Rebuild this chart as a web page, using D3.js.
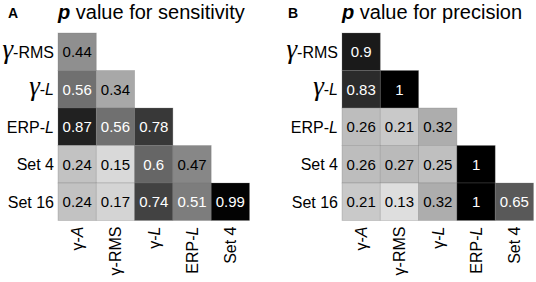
<!DOCTYPE html>
<html><head><meta charset="utf-8">
<script src="https://cdn.jsdelivr.net/npm/d3@7"></script>
<style>body{margin:0;background:#fff}svg{display:block}</style>
</head><body>
<script>
const rowLabels = ["γ-RMS","γ-L","ERP-L","Set 4","Set 16"];
const colLabels = ["γ-A","γ-RMS","γ-L","ERP-L","Set 4"];
const sensitivity = [
  [0.44],
  [0.56,0.34],
  [0.87,0.56,0.78],
  [0.24,0.15,0.6,0.47],
  [0.24,0.17,0.74,0.51,0.99]
];
const precision = [
  [0.9],
  [0.83,1],
  [0.26,0.21,0.32],
  [0.26,0.27,0.25,1],
  [0.21,0.13,0.32,1,0.65]
];
const panels = [
  {letter:"A", title:" value for sensitivity", data:sensitivity, x0:58, lx:8},
  {letter:"B", title:" value for precision", data:precision, x0:342, lx:288}
];

const W=536,H=282;
const svg=d3.select("body").append("svg").attr("width",W).attr("height",H)
  .style("font-family","'Liberation Sans', Arial, sans-serif");

const color=d3.scaleLinear().domain([0,1]).range(["#ffffff","#000000"]);
const x=d3.scaleBand().domain(colLabels).range([0,191.5]);
const y=d3.scaleBand().domain(rowLabels).range([0,187.5]);

function parts(lbl){
  if(lbl.startsWith("γ-")){
    const rest=lbl.slice(2);
    return [{t:"γ",g:true},{t:"-"},{t:rest,it:(rest==="L"||rest==="A")}];
  }
  if(lbl.startsWith("ERP-")) return [{t:"ERP-"},{t:"L",it:true}];
  return [{t:lbl}];
}

panels.forEach(p=>{
  const top=33;
  svg.append("text").attr("x",p.lx).attr("y",18).attr("font-size",14)
    .attr("font-weight","bold").text(p.letter);
  const t=svg.append("text").attr("x",p.x0).attr("y",19).attr("font-size",20);
  t.append("tspan").attr("font-weight","bold").attr("font-style","italic").text("p");
  t.append("tspan").text(p.title);

  const g=svg.append("g").attr("transform",`translate(${p.x0},${top})`);
  const cells=[];
  p.data.forEach((row,i)=>row.forEach((v,j)=>cells.push({r:rowLabels[i],c:colLabels[j],v})));
  g.selectAll("rect").data(cells).join("rect")
    .attr("x",d=>x(d.c)).attr("y",d=>y(d.r))
    .attr("width",x.bandwidth()).attr("height",y.bandwidth())
    .attr("fill",d=>color(d.v))
    .attr("stroke","#777").attr("stroke-opacity",0.35).attr("stroke-width",0.8);
  g.selectAll("text.val").data(cells).join("text").attr("class","val")
    .attr("x",d=>x(d.c)+x.bandwidth()/2).attr("y",d=>y(d.r)+y.bandwidth()/2+5.5)
    .attr("text-anchor","middle").attr("font-size",15)
    .attr("fill",d=>d.v>=0.5?"#fff":"#000")
    .text(d=>String(d.v));

  rowLabels.forEach(r=>{
    const tx=g.append("text").attr("x",-4).attr("y",y(r)+y.bandwidth()/2+6)
      .attr("text-anchor","end").attr("font-size",16);
    parts(r).forEach(pt=>{
      const s=tx.append("tspan").text(pt.t);
      if(pt.g) s.attr("font-family","'Liberation Serif', serif").attr("font-style","italic").attr("font-size",27);
      if(pt.it) s.attr("font-style","italic");
    });
  });
  colLabels.forEach(c=>{
    const cx=x(c)+x.bandwidth()/2+6;
    const tx=g.append("text").attr("transform",`translate(${cx},${187.5+6}) rotate(-90)`)
      .attr("text-anchor","end").attr("font-size",16);
    parts(c).forEach(pt=>{
      const s=tx.append("tspan").text(pt.t);
      if(pt.it) s.attr("font-style","italic");
    });
  });
});
</script>
</body></html>
